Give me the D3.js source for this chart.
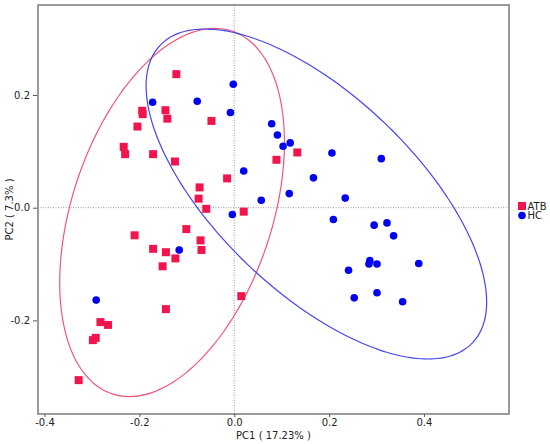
<!DOCTYPE html>
<html>
<head>
<meta charset="utf-8">
<script src="https://cdn.jsdelivr.net/npm/d3@7"></script>
<style>
  body { margin: 0; background: #fff; }
  svg text { font-family: "DejaVu Sans", sans-serif; }
</style>
</head>
<body>
<div class="pca"></div>
<script>
// PC1 / PC2 scores
const atbX = [-0.122, -0.194, -0.193, -0.145, -0.141, -0.048, -0.204, -0.233, -0.230, -0.171, -0.125,
              -0.015, -0.073, -0.075, -0.059, 0.020, -0.210, -0.101, -0.071, -0.069, -0.171, -0.144,
              -0.124, -0.151, 0.015, -0.144, -0.282, -0.266, -0.292, -0.298, -0.328, 0.133, 0.089]
const atbY = [0.237, 0.172, 0.166, 0.173, 0.158, 0.154, 0.144, 0.108, 0.095, 0.095, 0.082,
              0.052, 0.036, 0.016, -0.002, -0.007, -0.049, -0.038, -0.058, -0.075, -0.073, -0.079,
              -0.090, -0.104, -0.157, -0.180, -0.203, -0.208, -0.231, -0.235, -0.306, 0.098, 0.085]

const hcX = [-0.002, -0.172, -0.078, -0.008, 0.020, 0.057, -0.004, -0.116, -0.291, 0.079,
             0.091, 0.118, 0.103, 0.206, 0.310, 0.167, 0.116, 0.234, 0.209, 0.295,
             0.322, 0.336, 0.286, 0.284, 0.301, 0.389, 0.241, 0.301, 0.253, 0.355]
const hcY = [0.219, 0.187, 0.189, 0.169, 0.065, 0.013, -0.012, -0.075, -0.164, 0.149,
             0.129, 0.115, 0.109, 0.097, 0.087, 0.053, 0.025, 0.017, -0.021, -0.031,
             -0.027, -0.050, -0.094, -0.100, -0.100, -0.099, -0.111, -0.151, -0.160, -0.167]

// confidence ellipses: centre and the two semi-axis vectors, in PC units
const atbEllipse = { cx: -0.131, cy: -0.0085, ax: [0.126, 0.322], bx: [-0.2006, 0.0554] }
const hcEllipse = { cx: 0.1732, cy: 0.0243, ax: [0.329, -0.2642], bx: [0.1436, 0.1262] }

const xTicks = [-0.4, -0.2, 0.0, 0.2, 0.4]
const yTicks = [-0.2, 0.0, 0.2]
const groups = ["ATB", "HC"]

const width = 550
const height = 444
const margin = { top: 5, right: 41, bottom: 30, left: 38 }

const red = "#f2144c"
const blue = "#0000f5"

const svg = d3.select(".pca").append("svg")
              .attr("width", width)
              .attr("height", height)

const x = d3.scaleLinear()
            .domain([-0.4137, 0.5793])
            .range([margin.left, width - margin.right])

const y = d3.scaleLinear()
            .domain([-0.3661, 0.3597])
            .range([height - margin.bottom, margin.top])

// zero lines
svg.append("line")
    .attr("x1", x(0)).attr("x2", x(0))
    .attr("y1", margin.top).attr("y2", height - margin.bottom)
    .attr("stroke", "#999").attr("stroke-dasharray", "1,1.5")
svg.append("line")
    .attr("x1", margin.left).attr("x2", width - margin.right)
    .attr("y1", y(0)).attr("y2", y(0))
    .attr("stroke", "#999").attr("stroke-dasharray", "1,1.5")

const ellipsePath = (e) => {
    const pts = d3.range(0, 361, 3).map(deg => {
        const t = deg * Math.PI / 180
        return [e.cx + Math.cos(t) * e.ax[0] + Math.sin(t) * e.bx[0],
                e.cy + Math.cos(t) * e.ax[1] + Math.sin(t) * e.bx[1]]
    })
    return d3.line().x(d => x(d[0])).y(d => y(d[1])).curve(d3.curveCardinalClosed)(pts)
}

svg.append("path")
    .attr("d", ellipsePath(atbEllipse))
    .attr("fill", "none")
    .attr("stroke", "#f0567a")
    .attr("stroke-width", 1.2)

svg.append("path")
    .attr("d", ellipsePath(hcEllipse))
    .attr("fill", "none")
    .attr("stroke", "#4545f5")
    .attr("stroke-width", 1.2)

const sq = 8
atbX.forEach((d, i) => {
    svg.append("rect")
        .attr("x", x(d) - sq / 2)
        .attr("y", y(atbY[i]) - sq / 2)
        .attr("width", sq)
        .attr("height", sq)
        .attr("fill", red)
})

hcX.forEach((d, i) => {
    svg.append("circle")
        .attr("cx", x(d))
        .attr("cy", y(hcY[i]))
        .attr("r", 3.8)
        .attr("fill", blue)
})

// frame
svg.append("rect")
    .attr("x", margin.left)
    .attr("y", margin.top)
    .attr("width", width - margin.left - margin.right)
    .attr("height", height - margin.top - margin.bottom)
    .attr("fill", "none")
    .attr("stroke", "#7a7a7a")
    .attr("stroke-width", 1.5)

const xAxis = d3.axisBottom(x).tickValues(xTicks).tickSize(3).tickFormat(d => d.toFixed(1))
const yAxis = d3.axisLeft(y).tickValues(yTicks).tickSize(4).tickFormat(d => d.toFixed(1))

const gx = svg.append("g")
    .attr("transform", `translate(0, ${height - margin.bottom})`)
    .call(xAxis)
gx.select(".domain").remove()
gx.selectAll("text").attr("font-size", "10px").attr("fill", "#222").attr("dy", "0.6em")
gx.selectAll("line").attr("stroke", "#555")

const gy = svg.append("g")
    .attr("transform", `translate(${margin.left - 1}, 0)`)
    .call(yAxis)
gy.select(".domain").remove()
gy.selectAll("text").attr("font-size", "10px").attr("fill", "#222").attr("x", -7)
gy.selectAll("line").attr("stroke", "#555")

svg.append("text")
    .attr("x", (margin.left + width - margin.right) / 2)
    .attr("y", 439)
    .attr("text-anchor", "middle")
    .attr("font-size", "10px")
    .attr("fill", "#222")
    .text("PC1 ( 17.23% )")

svg.append("text")
    .attr("transform", `translate(13, ${(margin.top + height - margin.bottom) / 2}) rotate(-90)`)
    .attr("text-anchor", "middle")
    .attr("font-size", "10px")
    .attr("fill", "#222")
    .text("PC2 ( 7.3% )")

// legend
const legend = svg.append("g").attr("transform", "translate(522, 206)")
groups.forEach((g, i) => {
    const row = legend.append("g").attr("transform", `translate(0, ${i * 9.5})`)
    if (i === 0) {
        row.append("rect").attr("x", -4).attr("y", -4).attr("width", 8).attr("height", 8).attr("fill", red)
    } else {
        row.append("circle").attr("r", 3.8).attr("fill", blue)
    }
    row.append("text")
        .attr("x", 5.5)
        .attr("y", 3.6)
        .attr("font-size", "10px")
        .attr("fill", "#222")
        .text(g)
})
</script>
</body>
</html>
